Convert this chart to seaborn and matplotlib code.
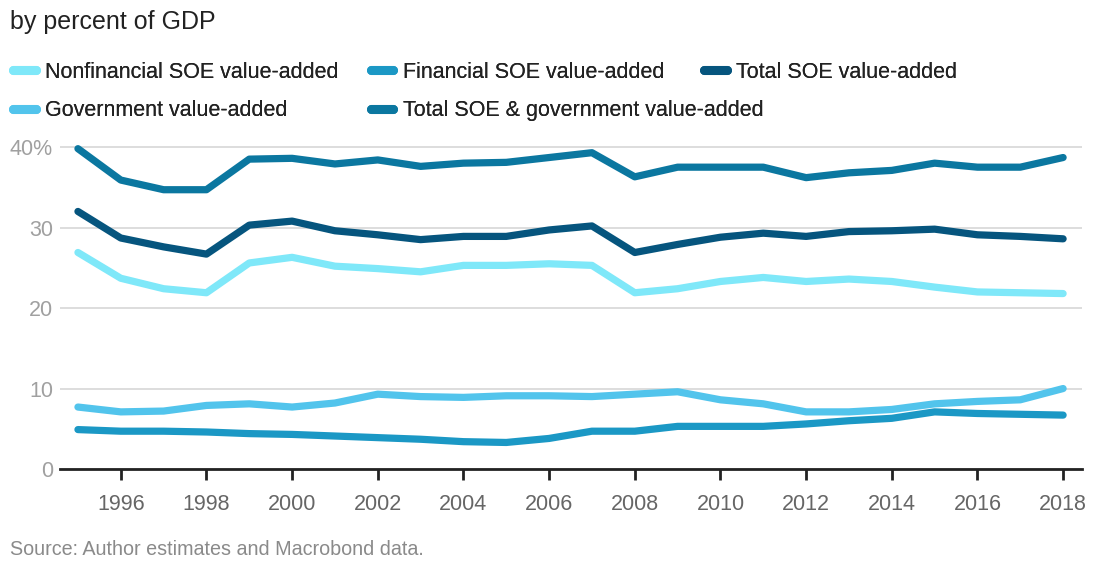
import numpy as np
import pandas as pd
import seaborn as sns
import matplotlib
matplotlib.use("Agg")
import matplotlib.pyplot as plt

years = list(range(1995, 2019))

nonfinancial_soe = [26.9, 23.7, 22.4, 21.9, 25.6, 26.3, 25.2, 24.9, 24.5, 25.3, 25.3, 25.5,
                    25.3, 21.9, 22.4, 23.3, 23.8, 23.3, 23.6, 23.3, 22.6, 22.0, 21.9, 21.8]
financial_soe = [4.9, 4.7, 4.7, 4.6, 4.4, 4.3, 4.1, 3.9, 3.7, 3.4, 3.3, 3.8,
                 4.7, 4.7, 5.3, 5.3, 5.3, 5.6, 6.0, 6.3, 7.1, 6.9, 6.8, 6.7]
total_soe = [32.0, 28.7, 27.6, 26.7, 30.3, 30.8, 29.6, 29.1, 28.5, 28.9, 28.9, 29.7,
             30.2, 26.9, 27.9, 28.8, 29.3, 28.9, 29.5, 29.6, 29.8, 29.1, 28.9, 28.6]
government = [7.7, 7.1, 7.2, 7.9, 8.1, 7.7, 8.2, 9.3, 9.0, 8.9, 9.1, 9.1,
              9.0, 9.3, 9.6, 8.6, 8.1, 7.1, 7.1, 7.4, 8.1, 8.4, 8.6, 10.0]
total_soe_gov = [39.8, 35.9, 34.7, 34.7, 38.5, 38.6, 37.9, 38.4, 37.6, 38.0, 38.1, 38.7,
                 39.3, 36.3, 37.5, 37.5, 37.5, 36.2, 36.8, 37.1, 38.0, 37.5, 37.5, 38.7]

series_names = ["Nonfinancial SOE value-added", "Financial SOE value-added",
                "Total SOE value-added", "Government value-added",
                "Total SOE & government value-added"]
series_values = [nonfinancial_soe, financial_soe, total_soe, government, total_soe_gov]
series_colors = ["#7fe8f9", "#1b98c5", "#06557e", "#52c4ec", "#0b77a0"]

x_ticks = list(range(1996, 2019, 2))
y_ticks = [0, 10, 20, 30, 40]
y_tick_labels = ["0", "10", "20", "30", "40%"]

frames = [pd.DataFrame({"year": years, "value": vals, "series": name})
          for name, vals in zip(series_names, series_values)]
df = pd.concat(frames, ignore_index=True)
palette = dict(zip(series_names, series_colors))

sns.set_theme(style="white")
plt.rcParams["font.family"] = ["Liberation Sans", "DejaVu Sans"]

fig = plt.figure(figsize=(10.94, 5.69), dpi=100)
ax = fig.add_axes([0.0548, 0.1757, 0.9342, 0.58])

sns.lineplot(data=df, x="year", y="value", hue="series", hue_order=series_names,
             palette=palette, linewidth=5.2, ax=ax, legend=False)
for ln in ax.get_lines():
    ln.set_solid_capstyle("round")
    ln.set_solid_joinstyle("round")

ax.set_xlim(1994.58, 2018.44)
ax.set_ylim(0, 41)
ax.set_xticks(x_ticks)
ax.set_xticklabels([str(t) for t in x_ticks], fontsize=15.5, color="#666666")
ax.set_yticks(y_ticks)
ax.set_yticklabels(y_tick_labels, fontsize=15.5, color="#a0a0a0")
ax.set_xlabel("")
ax.set_ylabel("")

ax.grid(axis="y", color="#dddddd", linewidth=1.4)
ax.grid(axis="x", visible=False)
ax.set_axisbelow(True)
for side in ["top", "right", "left"]:
    ax.spines[side].set_visible(False)
ax.spines["bottom"].set_color("#222222")
ax.spines["bottom"].set_linewidth(2)
ax.tick_params(axis="x", which="major", bottom=True, length=8, width=2,
               color="#222222", pad=10, direction="out")
ax.tick_params(axis="y", which="major", left=False, length=0, pad=5)


def legend_handle(name):
    return plt.Line2D([], [], color=palette[name], linewidth=6.5, solid_capstyle="round")


# legend entries flow in two rows; each entry is anchored at its own spot
legend_kw = dict(frameon=False, fontsize=15.5, handlelength=1.05, handletextpad=0.45,
                 borderaxespad=0, borderpad=0, labelcolor="#222222", loc="center left")
legend_slots = [
    (series_names[0], 0.012, 0.873),
    (series_names[1], 0.339, 0.873),
    (series_names[2], 0.6435, 0.873),
    (series_names[3], 0.012, 0.805),
    (series_names[4], 0.339, 0.805),
]
for name, lx, ly in legend_slots:
    leg = fig.legend([legend_handle(name)], [name], bbox_to_anchor=(lx, ly), **legend_kw)
    fig.add_artist(leg)

fig.text(0.009, 0.962, "by percent of GDP", fontsize=18, color="#222222",
         ha="left", va="center")
fig.text(0.009, 0.017, "Source: Author estimates and Macrobond data.", fontsize=14.2,
         color="#8a8a8a", ha="left", va="bottom")

fig.savefig("out.png", dpi=100, facecolor="white")
